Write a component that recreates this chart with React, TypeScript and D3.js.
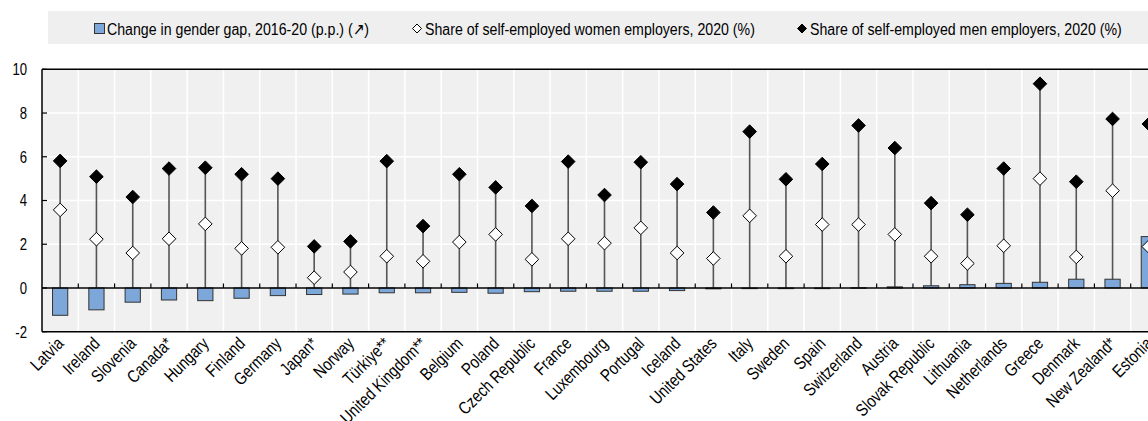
import React from "react";
import * as d3 from "d3";

const countries = ["Latvia","Ireland","Slovenia","Canada*","Hungary","Finland","Germany","Japan*","Norway","Türkiye**","United Kingdom**","Belgium","Poland","Czech Republic","France","Luxembourg","Portugal","Iceland","United States","Italy","Sweden","Spain","Switzerland","Austria","Slovak Republic","Lithuania","Netherlands","Greece","Denmark","New Zealand*","Estonia"];
const gapChange = [-1.25,-1.0,-0.65,-0.55,-0.58,-0.47,-0.35,-0.3,-0.28,-0.22,-0.22,-0.2,-0.24,-0.17,-0.15,-0.15,-0.15,-0.12,-0.04,-0.03,-0.03,-0.03,0.01,0.05,0.1,0.15,0.21,0.26,0.4,0.4,2.35];
const womenShare = [3.57,2.23,1.6,2.25,2.93,1.81,1.86,0.47,0.73,1.45,1.22,2.1,2.45,1.31,2.25,2.05,2.75,1.6,1.35,3.3,1.45,2.9,2.9,2.45,1.45,1.12,1.93,5.0,1.42,4.45,1.89];
const menShare = [5.81,5.09,4.16,5.46,5.5,5.2,5.0,1.9,2.13,5.8,2.83,5.2,4.6,3.75,5.78,4.25,5.75,4.75,3.45,7.15,4.97,5.67,7.43,6.4,3.88,3.35,5.46,9.34,4.86,7.73,7.5];
const yTicks = [-2,0,2,4,6,8,10];
const legendLabels = ["Change in gender gap, 2016-20 (p.p.) (↗)","Share of self-employed women employers, 2020 (%)","Share of self-employed men employers, 2020 (%)"];

const FONT = "'Liberation Sans', Arial, sans-serif";
const NARROW = 0.82;

function NText({ x, y, rotate = 0, size, anchor = "start", children }: any) {
  return (
    <text
      transform={`translate(${x},${y}) rotate(${rotate}) scale(${NARROW},1)`}
      x={0}
      y={0}
      fontSize={size}
      textAnchor={anchor}
      fill="#000"
    >
      {children}
    </text>
  );
}

export default function App() {
  const W = 1148, H = 421;
  const left = 42, right = 1167, top = 69.3, bottom = 331.7;
  const x = d3.scaleBand<string>().domain(countries).range([left, right]).padding(0);
  const y = d3.scaleLinear().domain([-2, 10]).range([bottom, top]);
  const bw = x.bandwidth();
  const barW = bw * 0.42;
  const y0 = y(0);
  const diamond = (cx: number, cy: number, r: number) =>
    `M${cx},${cy - r}L${cx + r},${cy}L${cx},${cy + r}L${cx - r},${cy}Z`;
  const boundaries = countries.map((c) => x(c)!).concat([right]);

  return (
    <svg width={W} height={H} style={{ position: "absolute", left: 0, top: 0, fontFamily: FONT }}>
      {/* legend */}
      <rect x={48} y={11} width={1100} height={33} fill="#efefef" />
      <rect x={94.5} y={23.5} width={10} height={10} fill="#7DA7D9" stroke="#333" strokeWidth={1} />
      <NText x={107} y={35} size={17.3}>{legendLabels[0]}</NText>
      <path d={diamond(417, 28.5, 4.5)} fill="#fff" stroke="#000" strokeWidth={1} />
      <NText x={425} y={35} size={17.3}>{legendLabels[1]}</NText>
      <path d={diamond(802, 28.5, 4.5)} fill="#000" stroke="#000" strokeWidth={1} />
      <NText x={810} y={35} size={17.3}>{legendLabels[2]}</NText>

      {/* plot background */}
      <rect x={left} y={top} width={right - left} height={bottom - top} fill="#f0f0f0" />
      {yTicks.map((t) => (
        <line key={"gy" + t} x1={left} x2={right} y1={y(t)} y2={y(t)} stroke="#fff" strokeWidth={1.5} />
      ))}
      {boundaries.slice(1).map((bx, i) => (
        <line key={"gx" + i} x1={bx} x2={bx} y1={top} y2={bottom} stroke="#fff" strokeWidth={1.5} />
      ))}

      {/* stems */}
      {countries.map((c, i) => (
        <line key={"s" + c} x1={x(c)! + bw / 2} x2={x(c)! + bw / 2} y1={y0} y2={y(menShare[i])} stroke="#555" strokeWidth={1.6} />
      ))}
      {/* bars */}
      {countries.map((c, i) => {
        const v = gapChange[i];
        const y1 = Math.min(y(v), y0), y2 = Math.max(y(v), y0);
        return (
          <rect key={"b" + c} x={x(c)! + bw / 2 - barW / 2} y={y1} width={barW} height={Math.max(y2 - y1, 0.5)} fill="#7DA7D9" stroke="#333" strokeWidth={1} />
        );
      })}

      {/* frame and axes */}
      <line x1={left} x2={right} y1={top} y2={top} stroke="#000" strokeWidth={1.5} />
      <line x1={left} x2={right} y1={bottom} y2={bottom} stroke="#000" strokeWidth={1.5} />
      <line x1={left} x2={right} y1={y0} y2={y0} stroke="#000" strokeWidth={1.5} />
      <line x1={left} x2={left} y1={top} y2={bottom} stroke="#000" strokeWidth={1.5} />
      {boundaries.slice(1).map((bx, i) => (
        <line key={"tx" + i} x1={bx} x2={bx} y1={y0} y2={y0 - 4.5} stroke="#000" strokeWidth={1.2} />
      ))}
      {yTicks.map((t) => (
        <g key={"ty" + t}>
          <line x1={left} x2={left + 5} y1={y(t)} y2={y(t)} stroke="#000" strokeWidth={1.2} />
          <NText x={27} y={y(t) + 5.8} size={16} anchor="end">{t}</NText>
        </g>
      ))}

      {/* markers */}
      {countries.map((c, i) => (
        <g key={"m" + c}>
          <path d={diamond(x(c)! + bw / 2, y(womenShare[i]), 6.8)} fill="#fff" stroke="#000" strokeWidth={1} />
          <path d={diamond(x(c)! + bw / 2, y(menShare[i]), 6.8)} fill="#000" stroke="#000" strokeWidth={1} />
        </g>
      ))}

      {/* x labels */}
      {countries.map((c) => {
        const cx = x(c)! + bw / 2 + 4.5;
        const cy = bottom + 13;
        return (
          <NText key={"l" + c} x={cx} y={cy} rotate={-45} size={17.5} anchor="end">{c}</NText>
        );
      })}
    </svg>
  );
}
